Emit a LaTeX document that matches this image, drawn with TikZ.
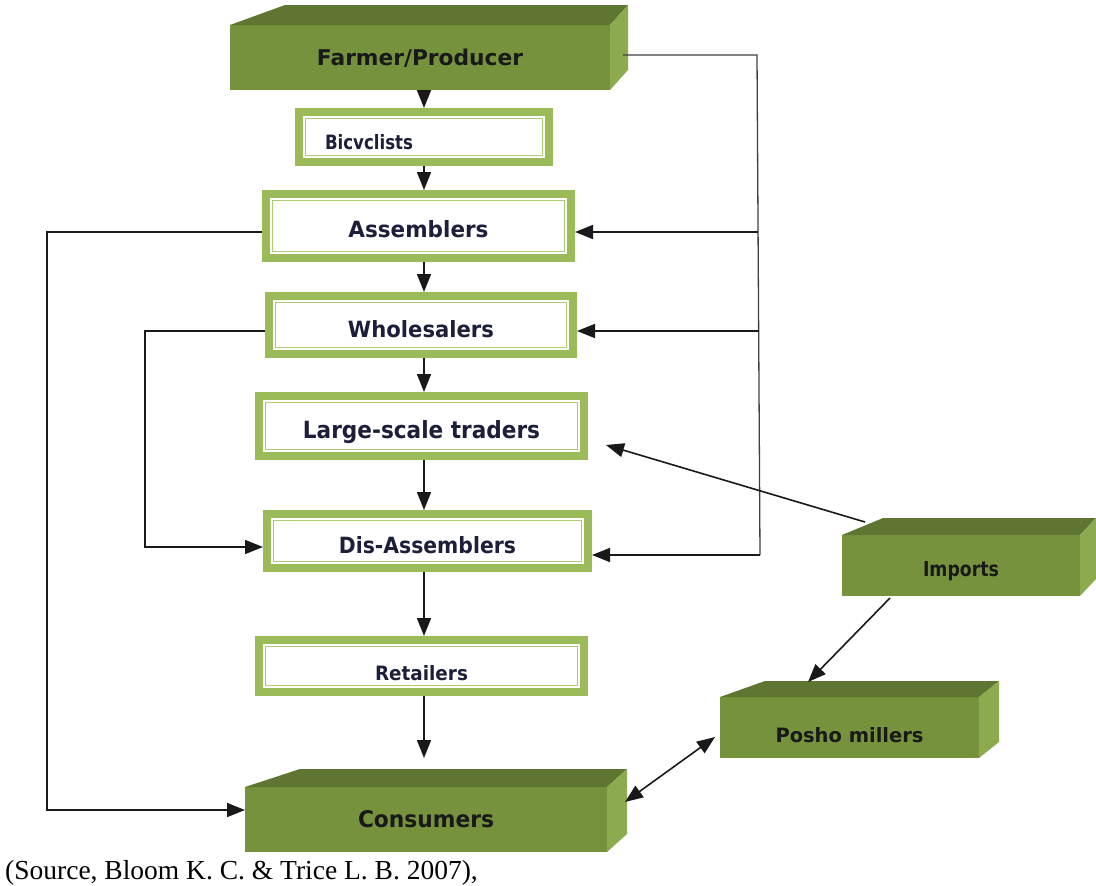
\documentclass[tikz,border=0pt]{standalone}
\usepackage{fontspec}
\usepackage{graphicx}
\setmainfont{Liberation Serif}
\newfontfamily\boxfont{DejaVu Sans}
\usetikzlibrary{arrows.meta,calc}

\definecolor{bandgreen}{HTML}{9BBB59}
\definecolor{innergreen}{HTML}{AECB72}
\definecolor{frontg}{HTML}{77923C}
\definecolor{topg}{HTML}{5F7532}
\definecolor{sideg}{HTML}{8CAA4E}
\definecolor{navytext}{HTML}{1C1E3A}

% label: x-shift, drop, width, height, text
\newcommand{\lbl}[5]{\makebox[0pt]{\hspace*{#1pt}\hspace*{#1pt}\smash{\raisebox{\dimexpr-.5\height-(#2pt)\relax}{\resizebox{#3pt}{#4pt}{#5}}}}}

\tikzset{
  dbox/.style={draw=bandgreen, line width=8pt, fill=white, inner sep=0pt,
               font=\boxfont\bfseries, text=navytext},
  innerline/.style={draw=innergreen, line width=1.6pt},
  gface/.style={fill=frontg, inner sep=0pt, outer sep=0pt,
                font=\boxfont\bfseries, text=black!90},
  ln/.style={line width=1.6pt, draw=black!90},
  trunk/.style={line width=1.3pt, draw=black!75},
  arr/.style={ln, -{Triangle[length=18pt,width=14pt]}},
  darr/.style={ln, {Triangle[length=18pt,width=14pt]}-{Triangle[length=18pt,width=14pt]}}
}

% name, x1, y1, x2, y2, side dx, depth dy, left offset, content
\newcommand{\greenbox}[9]{%
  \node[gface, minimum width={#4-#2}, minimum height={#5-#3}] (#1) at ({(#2+#4)/2},{(#3+#5)/2}) {#9};
  \fill[topg] (#1.north west) -- ++(#8,-#7) -- ([shift={(#6,-#7)}]#1.north east) -- (#1.north east) -- cycle;
  \fill[sideg] (#1.north east) -- ++(#6,-#7) -- ([shift={(#6,-#7)}]#1.south east) -- (#1.south east) -- cycle;
}

\begin{document}
\begin{tikzpicture}[x=1pt,y=-1pt]
\useasboundingbox (0,0) rectangle (1096,886);

% 3D green boxes
\greenbox{farmer}{230}{25}{610}{90}{18}{20}{55}{\lbl{0}{-0.5}{206}{16.5}{Farmer/Producer}}
\greenbox{cons}{245}{787}{607}{852}{20}{18}{55}{\lbl{0}{-1}{136}{17}{Consumers}}
\greenbox{imp}{842}{535}{1080}{596}{16}{17}{41}{\lbl{0}{3.5}{76}{15}{Imports}}
\greenbox{posho}{720}{697}{979}{758}{20}{16}{45}{\lbl{0}{7}{148}{15}{Posho millers}}

% double-bordered boxes
\node[dbox, minimum width=250pt, minimum height=50pt] (bic) at (424,137) {\lbl{-55}{5}{88}{15}{Bicvclists}};
\node[dbox, minimum width=305pt, minimum height=64pt] (asm) at (418.5,226) {\lbl{0}{2.5}{140}{17}{Assemblers}};
\node[dbox, minimum width=304pt, minimum height=58pt] (who) at (421,325) {\lbl{0}{3.5}{146}{17}{Wholesalers}};
\node[dbox, minimum width=325pt, minimum height=60pt] (lst) at (421.5,426) {\lbl{0}{3}{237}{18}{Large-scale traders}};
\node[dbox, minimum width=321pt, minimum height=54pt] (dis) at (427.5,541) {\lbl{0}{4}{177}{17}{Dis-Assemblers}};
\node[dbox, minimum width=325pt, minimum height=52pt] (ret) at (421.5,666) {\lbl{0}{6.5}{93}{15}{Retailers}};

\foreach \n in {bic,asm,who,lst,dis,ret}
  \draw[innerline] ([shift={(10.5,10.5)}]\n.north west) rectangle ([shift={(-10.5,-10.5)}]\n.south east);

% main vertical chain
\coordinate (col) at (424,0);
\coordinate (consin) at ([yshift=29pt]cons.north);
\draw[arr] (col |- farmer.south) -- (col |- bic.north);
\draw[arr] (col |- bic.south) -- (col |- asm.north);
\draw[arr] (col |- asm.south) -- (col |- who.north);
\draw[arr] (col |- who.south) -- (col |- lst.north);
\draw[arr] (col |- lst.south) -- (col |- dis.north);
\draw[arr] (col |- dis.south) -- (col |- ret.north);
\draw[arr] (col |- ret.south) -- (col |- consin);

% right trunk from Farmer/Producer
\coordinate (t1) at (757,55);
\coordinate (t2) at (760,555);
\coordinate (ba) at ($(t1)!0.354!(t2)$);
\coordinate (bw) at ($(t1)!0.552!(t2)$);
\draw[trunk] ([shift={(13,-2.5)}]farmer.east) -- (t1) -- (t2);
\draw[arr] (t2) -- (t2 -| dis.east);
\draw[arr] (ba) -- (ba -| asm.east);
\draw[arr] (bw) -- (bw -| who.east);

% left loops
\coordinate (la) at (47,232);
\coordinate (lb) at (47,810);
\draw[arr] (la -| asm.west) -- (la) -- (lb) -- (lb -| cons.west);
\coordinate (lc) at (145,331);
\coordinate (ld) at (145,547);
\draw[arr] (lc -| who.west) -- (lc) -- (ld) -- (ld -| dis.west);

% imports
\draw[arr] ([shift={(23,-13)}]imp.north west) -- ([shift={(18,19)}]lst.east);
\draw[arr] ([shift={(48,2)}]imp.south west) -- ([shift={(88,-15)}]posho.north west);
\draw[darr] ([shift={(18,15)}]cons.north east) -- ([shift={(-5,9.5)}]posho.west);

% source
\node[anchor=base west, inner sep=0pt, font=\fontsize{27.5}{30}\selectfont] (src) at (5,879)
  {(Source, Bloom K. C. \& Trice L. B. 2007),};
\end{tikzpicture}
\end{document}
